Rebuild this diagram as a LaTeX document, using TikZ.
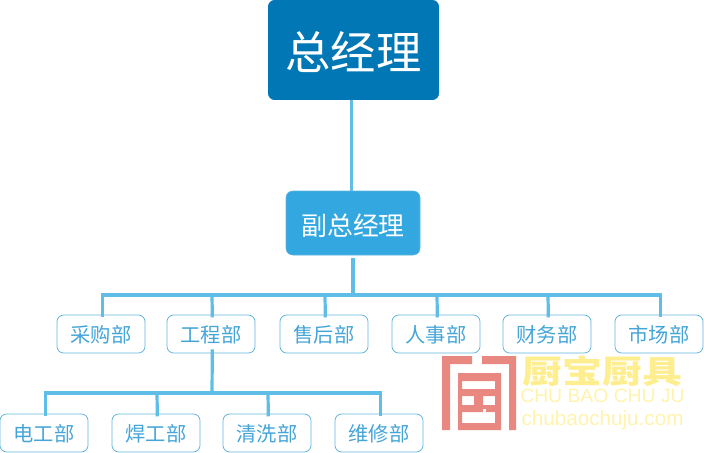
\documentclass[tikz,border=0pt]{standalone}
\usepackage{fontspec}
\setmainfont{Noto Sans CJK SC}
\newfontfamily\latinfont{Liberation Sans}
\definecolor{topblue}{HTML}{0277B5}
\definecolor{midblue}{HTML}{33A8E0}
\definecolor{linkblue}{HTML}{5FBDE8}
\definecolor{edgeblue}{HTML}{5FB4DC}
\definecolor{textblue}{HTML}{45A5D8}
\definecolor{logored}{HTML}{E88880}
\definecolor{markyellow}{HTML}{FFEE90}
\definecolor{paleyellow}{HTML}{FFF3AE}
\tikzset{
dept/.style={draw=edgeblue,line width=0.6pt,fill=white,rounded corners=5,minimum width=88*0.75pt,minimum height=38*0.75pt,inner sep=0pt,text=textblue,text height=13pt,text depth=0pt,font=\fontsize{15.2}{17}\selectfont},
link/.style={draw=linkblue,line width=2.4pt},
markfont/.style={inner sep=0pt}
}
\begin{document}
\begin{tikzpicture}[x=0.75pt,y=-0.75pt]
\useasboundingbox (0,0) rectangle (704,453);
\node[fill=topblue,rounded corners=5,minimum width=171*0.75pt,minimum height=100*0.75pt,inner sep=0pt,text=white,text height=29.6pt,text depth=0pt,font=\fontsize{34}{38}\selectfont] (gm) at (353.5,50) {总经理};
\node[draw=edgeblue,fill=midblue,rounded corners=5,minimum width=134*0.75pt,minimum height=64*0.75pt,inner sep=0pt,text=white,text height=19pt,text depth=0pt,font=\fontsize{19.4}{21}\selectfont] (vice) at (353,223) {副总经理};
% first row
\node[dept] (caigou) at (101,334) {采购部};
\node[dept] (gongcheng) at (211,334) {工程部};
\node[dept] (shouhou) at (324,334) {售后部};
\node[dept] (renshi) at (436,334) {人事部};
\node[dept] (caiwu) at (547,334) {财务部};
\node[dept] (shichang) at (659,334) {市场部};
% second row
\node[dept] (diangong) at (44,433) {电工部};
\node[dept] (hangong) at (156,433) {焊工部};
\node[dept] (qingxi) at (267,433) {清洗部};
\node[dept] (weixiu) at (379,433) {维修部};
% connectors
\coordinate (busa) at (353,295);
\coordinate (busb) at (212,393);
\draw[link] ([xshift=-1]gm.south -| vice) -- ([xshift=-1]vice.north);
\draw[link] ([yshift=-2]vice.south) -- (busa);
\draw[link] ([xshift=1,yshift=-2]caigou.north) |- (busa) -| ([xshift=1,yshift=-2]shichang.north);
\foreach \n in {gongcheng,shouhou,renshi,caiwu}
\draw[link] (busa -| \n.north) ++(1,0) -- ([xshift=1,yshift=-2]\n.north);
\draw[link] ([xshift=1,yshift=3]gongcheng.south) -- (busb);
\draw[link] ([xshift=1,yshift=-2]diangong.north) |- (busb) -| ([xshift=1,yshift=-2]weixiu.north);
\foreach \n in {hangong,qingxi}
\draw[link] (busb -| \n.north) ++(1,0) -- ([xshift=1,yshift=-2]\n.north);
% mark
\fill[logored] (442,356) -- (472,356) -- (472,364) -- (450,364) -- (450,430) -- (442,430) -- cycle;
\fill[logored] (482,356) -- (516,356) -- (516,430) -- (509,430) -- (509,364) -- (482,364) -- cycle;
\fill[logored,even odd rule] (458,373) rectangle (501,430) (462,381) rectangle (495,423);
\fill[logored] (462,389) rectangle (495,396) (462,405) rectangle (495,412) (474,389) rectangle (483,412);
\fill[white] (483,409) rectangle (486,412);
\node[markfont,text=markyellow,font=\bfseries\fontsize{30}{32}\selectfont,yscale=0.8] (markcn) at (602.5,371) {厨宝厨具};
\node[markfont,text=paleyellow,font=\latinfont\fontsize{14.5}{16}\selectfont] (markpy) at (602.5,396) {CHU BAO CHU JU};
\node[markfont,text=paleyellow,font=\latinfont\fontsize{15.5}{17}\selectfont] (markurl) at (602.5,420) {chubaochuju.com};
\end{tikzpicture}
\end{document}
